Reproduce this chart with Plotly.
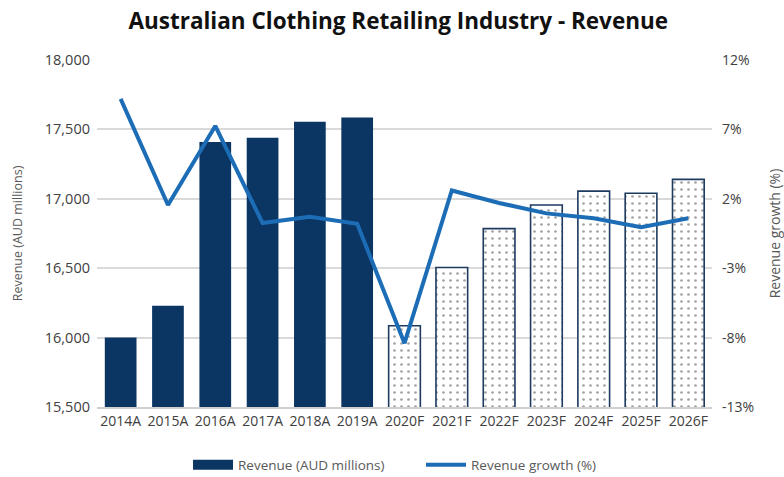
import plotly.graph_objects as go

# Years: A = actual, F = forecast
years = ["2014A", "2015A", "2016A", "2017A", "2018A", "2019A", "2020F",
         "2021F", "2022F", "2023F", "2024F", "2025F", "2026F"]
revenue = [16000, 16230, 17410, 17440, 17555, 17585, 16085,
           16505, 16785, 16955, 17055, 17040, 17140]
growth = [9.2, 1.55, 7.25, 0.25, 0.7, 0.2, -8.4,
          2.6, 1.7, 0.95, 0.6, -0.05, 0.6]

left_ticks = [15500, 16000, 16500, 17000, 17500, 18000]
right_ticks = [-13, -8, -3, 2, 7, 12]

DARK = "#0b3563"
LINE = "#1c6db6"
GREY_TXT = "#595959"
TICK_TXT = "#404040"

is_forecast = [y.endswith("F") for y in years]
bar_colors = ["white" if f else DARK for f in is_forecast]
bar_patterns = ["." if f else "" for f in is_forecast]
bar_line_w = [1.6 if f else 0 for f in is_forecast]

fig = go.Figure()
fig.add_trace(go.Bar(
    x=years, y=revenue, name="Revenue (AUD millions)", showlegend=False,
    marker=dict(
        color=bar_colors,
        line=dict(color="#1d3a5f", width=bar_line_w),
        pattern=dict(shape=bar_patterns, fgcolor="#44546a", size=7, solidity=0.12),
    ),
))
fig.add_trace(go.Scatter(
    x=years, y=growth, name="Revenue growth (%)", yaxis="y2",
    mode="lines", line=dict(color=LINE, width=4), showlegend=False,
))

# legend entries: wide block for the revenue bars, thin line for growth
fig.add_trace(go.Scatter(
    x=[None], y=[None], name="Revenue (AUD millions)", mode="lines",
    line=dict(color=DARK, width=14), showlegend=True,
))
fig.add_trace(go.Scatter(
    x=[None], y=[None], name="Revenue growth (%)", mode="lines", yaxis="y2",
    line=dict(color=LINE, width=4), showlegend=True,
))

fig.update_layout(
    width=784, height=477,
    margin=dict(l=97, r=72, t=60, b=70),
    paper_bgcolor="white", plot_bgcolor="white",
    font=dict(family="Open Sans", color=GREY_TXT, size=13),
    title=dict(text="<b>Australian Clothing Retailing Industry - Revenue</b>",
               x=0.508, xanchor="center", y=0.955, yanchor="middle",
               font=dict(size=22.5, color="#111111")),
    bargap=0.33,
    showlegend=True,
    legend=dict(orientation="h", x=0.148, xanchor="left",
                yref="container", y=0.025, yanchor="middle",
                font=dict(size=13.5, color=GREY_TXT), itemwidth=40,
                entrywidth=178, entrywidthmode="pixels",
                traceorder="normal"),
    xaxis=dict(showline=True, linecolor="#d0d0d0", linewidth=1.5, ticks="",
               tickfont=dict(size=14, color=TICK_TXT), automargin=False),
    yaxis=dict(range=[15500, 18000], tickvals=left_ticks,
               ticktext=[f"{v:,}" for v in left_ticks],
               showgrid=True, gridcolor="#d9d9d9", gridwidth=1.5, zeroline=False,
               ticklabelstandoff=6, automargin=False,
               title=dict(text="Revenue (AUD millions)", font=dict(size=12.5, color=GREY_TXT),
                          standoff=19),
               tickfont=dict(size=14.5, color=TICK_TXT)),
    yaxis2=dict(range=[-13, 12], tickvals=right_ticks,
                ticktext=[f"{v}%" for v in right_ticks],
                overlaying="y", side="right", showgrid=False, zeroline=False,
                ticklabelstandoff=9, automargin=False,
                title=dict(text="Revenue growth (%)", font=dict(size=14, color=GREY_TXT),
                           standoff=26),
                tickfont=dict(size=14, color=TICK_TXT)),
)

fig.write_html("out.html")
